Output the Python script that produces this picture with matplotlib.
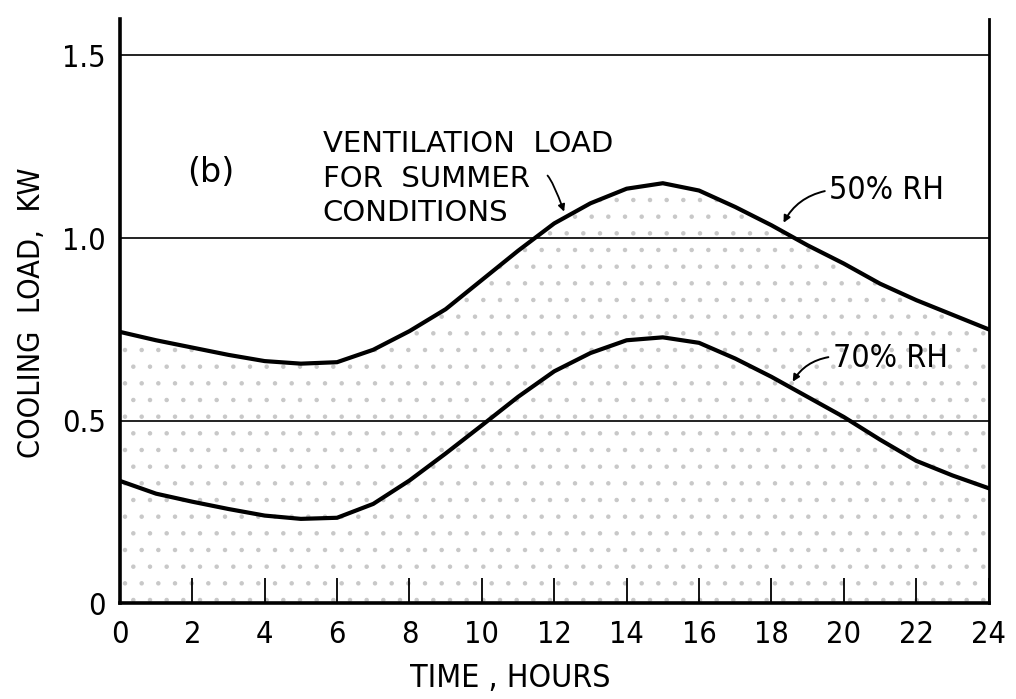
import numpy as np
import matplotlib
matplotlib.use("Agg")
from matplotlib import pyplot as plt

plt.rcParams['font.family'] = ['DejaVu Sans']
plt.rcParams['font.stretch'] = 'condensed'
plt.rcParams['hatch.linewidth'] = 0.8

# hours of the day
hours = [0, 1, 2, 3, 4, 5, 6, 7, 8, 9, 10, 11, 12, 13, 14, 15, 16, 17, 18, 19, 20, 21, 22, 23, 24]
# ventilation load, kW
rh50 = [0.743, 0.72, 0.70, 0.68, 0.663, 0.656, 0.66, 0.694, 0.745, 0.805, 0.885, 0.965, 1.04, 1.095, 1.135, 1.15,
        1.13, 1.085, 1.035, 0.98, 0.93, 0.875, 0.83, 0.79, 0.75]
rh70 = [0.335, 0.30, 0.278, 0.258, 0.24, 0.231, 0.234, 0.272, 0.336, 0.41, 0.487, 0.565, 0.635, 0.685, 0.72, 0.728,
        0.713, 0.67, 0.62, 0.565, 0.51, 0.448, 0.39, 0.35, 0.315]

xticks = [0, 2, 4, 6, 8, 10, 12, 14, 16, 18, 20, 22, 24]
yticks = [0, 0.5, 1.0, 1.5]
ylabels = ['0', '0.5', '1.0', '1.5']

fig = plt.figure(figsize=(10.16, 6.99), dpi=100)
ax = fig.add_axes([0.118, 0.137, 0.855, 0.836])

# stippled area under the 50% curve
ax.fill_between(hours, 0, rh50, facecolor='none', edgecolor='#c8c8c8', hatch='.', linewidth=0)

for y in yticks[1:]:
    ax.axhline(y, color='#222222', linewidth=1.4, zorder=2)

ax.plot(hours, rh50, color='black', linewidth=3.0, zorder=3, solid_joinstyle='round')
ax.plot(hours, rh70, color='black', linewidth=3.0, zorder=3, solid_joinstyle='round')

ax.set_xlim(0, 24)
ax.set_ylim(0, 1.6)
ax.spines['top'].set_visible(False)
ax.spines['left'].set_linewidth(2.6)
ax.spines['bottom'].set_linewidth(2.6)
ax.spines['right'].set_linewidth(2.0)

ax.set_xticks(xticks)
ax.set_xticklabels([str(t) for t in xticks])
ax.set_yticks(yticks)
ax.set_yticklabels(ylabels)
ax.tick_params(axis='x', direction='in', length=18, width=1.3, pad=12, labelsize=22)
ax.tick_params(axis='y', length=0, pad=10, labelsize=22)

ax.set_xlabel('TIME , HOURS', fontsize=23)
ax.xaxis.set_label_coords(0.449, -0.103)
ax.set_ylabel('COOLING  LOAD,  KW', fontsize=22)
ax.yaxis.set_label_coords(-0.085, 0.497)

ax.text(2.5, 1.18, '(b)', fontsize=24, ha='center', va='center', fontstretch='normal')
ax.text(5.6, 1.295, 'VENTILATION  LOAD\nFOR  SUMMER\nCONDITIONS', fontsize=21, ha='left', va='top',
        linespacing=1.3, fontstretch='normal')
ax.annotate('', xy=(12.3, 1.065), xytext=(11.75, 1.175),
            arrowprops=dict(arrowstyle='-|>', color='black', lw=1.3,
                            connectionstyle='angle3,angleA=0,angleB=110'))

ax.text(19.6, 1.13, '50% RH', fontsize=23, ha='left', va='center')
ax.annotate('', xy=(18.3, 1.035), xytext=(19.55, 1.13),
            arrowprops=dict(arrowstyle='-|>', color='black', lw=1.4,
                            connectionstyle='arc3,rad=0.25'))
ax.text(19.7, 0.67, '70% RH', fontsize=23, ha='left', va='center')
ax.annotate('', xy=(18.55, 0.60), xytext=(19.65, 0.675),
            arrowprops=dict(arrowstyle='-|>', color='black', lw=1.4,
                            connectionstyle='arc3,rad=0.25'))

fig.savefig('out.png', dpi=100)
